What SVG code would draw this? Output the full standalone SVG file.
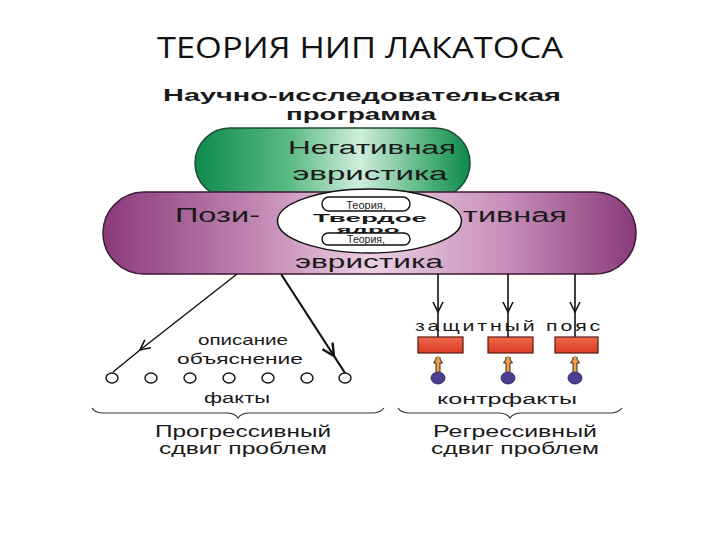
<svg xmlns="http://www.w3.org/2000/svg" width="720" height="540" viewBox="0 0 720 540">
<defs>
<linearGradient id="gGreen" x1="0" y1="0" x2="1" y2="0">
<stop offset="0" stop-color="#0e8a4c"/>
<stop offset="0.35" stop-color="#5dbb86"/>
<stop offset="0.6" stop-color="#cfeedd"/>
<stop offset="0.85" stop-color="#4fb07a"/>
<stop offset="1" stop-color="#0e8a4c"/>
</linearGradient>
<linearGradient id="gPurple" x1="0" y1="0" x2="1" y2="0">
<stop offset="0" stop-color="#8a3a7a"/>
<stop offset="0.3" stop-color="#c48ab4"/>
<stop offset="0.5" stop-color="#ecd0e4"/>
<stop offset="0.75" stop-color="#c890ba"/>
<stop offset="1" stop-color="#8a3a7a"/>
</linearGradient>
<linearGradient id="gRed" x1="0" y1="0" x2="0" y2="1">
<stop offset="0" stop-color="#f06a4a"/>
<stop offset="1" stop-color="#d83a26"/>
</linearGradient>
<marker id="vOpen" viewBox="0 0 12 12" refX="11" refY="6" markerWidth="12" markerHeight="12" markerUnits="userSpaceOnUse" orient="auto">
<path d="M1,1 L11,6 L1,11" fill="none" stroke="#111" stroke-width="1.6"/>
</marker>
<marker id="vBold" viewBox="0 0 14 14" refX="13" refY="7" markerWidth="14" markerHeight="14" markerUnits="userSpaceOnUse" orient="auto">
<path d="M1,1 L13,7 L1,13" fill="none" stroke="#111" stroke-width="2.4"/>
</marker>
<marker id="oArr" viewBox="0 0 10 10" refX="5" refY="1" markerWidth="10" markerHeight="10" markerUnits="userSpaceOnUse" orient="0">
<path d="M0.5,7 L5,0.5 L9.5,7 Z" fill="#f0a050" stroke="#3a2a10" stroke-width="1"/>
</marker>
</defs>
<style>
.t{font-family:"Liberation Sans",Arial,sans-serif;fill:#1a1a1a;}
.b{font-weight:bold;}
.ln{stroke:#111;fill:none;}
.dot{fill:#fff;stroke:#111;stroke-width:1.4;}
.rb{fill:url(#gRed);stroke:#5a1a10;stroke-width:1.2;}
.blob{fill:#4b3d8f;stroke:#251a50;stroke-width:0.8;}
.brace{fill:none;stroke:#333;stroke-width:1.2;}
</style>
<rect width="720" height="540" fill="#fff"/>
<text x="360" y="58" text-anchor="middle" font-family="'Open Sans','Liberation Sans',sans-serif" font-size="30" fill="#111" textLength="406" lengthAdjust="spacingAndGlyphs">ТЕОРИЯ НИП ЛАКАТОСА</text>
<g id="program-title">
<text class="t b" x="362" y="101" text-anchor="middle" font-size="16.5" textLength="398" lengthAdjust="spacingAndGlyphs">Научно-исследовательская</text>
<text class="t b" x="361" y="120" text-anchor="middle" font-size="16.5" textLength="150" lengthAdjust="spacingAndGlyphs">программа</text>
</g>
<g id="negative-heuristic">
<rect x="195" y="128" width="275" height="70" rx="35" fill="url(#gGreen)" stroke="#1d4a32" stroke-width="1.5"/>
<text class="t" x="372" y="154" text-anchor="middle" font-size="19" textLength="168" lengthAdjust="spacingAndGlyphs">Негативная</text>
<text class="t" x="370" y="180" text-anchor="middle" font-size="19" textLength="155" lengthAdjust="spacingAndGlyphs">эвристика</text>
</g>
<g id="positive-heuristic">
<rect x="103" y="192" width="533" height="82" rx="41" fill="url(#gPurple)" stroke="#3a1a34" stroke-width="1.5"/>
<text class="t" x="175" y="222" font-size="20" textLength="85" lengthAdjust="spacingAndGlyphs">Пози-</text>
<text class="t" x="463" y="222" font-size="20" textLength="104" lengthAdjust="spacingAndGlyphs">тивная</text>
<text class="t" x="369" y="268" text-anchor="middle" font-size="19" textLength="148" lengthAdjust="spacingAndGlyphs">эвристика</text>
</g>
<g id="hard-core">
<ellipse cx="369.5" cy="221" rx="92" ry="32" fill="#fff" stroke="#111" stroke-width="1.5"/>
<rect x="322" y="197" width="88" height="14" rx="7" fill="#fff" stroke="#111" stroke-width="1.4"/>
<text class="t" x="366" y="208.5" text-anchor="middle" font-size="11">Теория,</text>
<text class="t b" x="370" y="221.5" text-anchor="middle" font-size="11.5" textLength="114" lengthAdjust="spacingAndGlyphs">Твердое</text>
<text class="t b" x="368" y="232.5" text-anchor="middle" font-size="9" textLength="63" lengthAdjust="spacingAndGlyphs">ядро</text>
<rect x="322" y="233" width="88" height="12" rx="6" fill="#fff" stroke="#111" stroke-width="1.4"/>
<text class="t" x="366" y="243" text-anchor="middle" font-size="10.5">Теория,</text>
</g>
<g id="connectors">
<line class="ln" x1="237" y1="274" x2="140" y2="350" stroke-width="1.4" marker-end="url(#vOpen)"/>
<line class="ln" x1="140" y1="350" x2="113" y2="372" stroke-width="1.4"/>
<line class="ln" x1="281" y1="274" x2="334" y2="356" stroke-width="2.2" marker-end="url(#vBold)"/>
<line class="ln" x1="334" y1="356" x2="345" y2="373" stroke-width="2.2"/>
<line class="ln" x1="438" y1="274" x2="438" y2="312" stroke-width="1.6" marker-end="url(#vOpen)"/>
<line class="ln" x1="438" y1="312" x2="438" y2="338" stroke-width="1.6"/>
<line class="ln" x1="508" y1="274" x2="508" y2="312" stroke-width="1.6" marker-end="url(#vOpen)"/>
<line class="ln" x1="508" y1="312" x2="508" y2="338" stroke-width="1.6"/>
<line class="ln" x1="575" y1="274" x2="575" y2="312" stroke-width="1.6" marker-end="url(#vOpen)"/>
<line class="ln" x1="575" y1="312" x2="575" y2="338" stroke-width="1.6"/>
<g stroke-linecap="butt">
<line x1="438" y1="372" x2="438" y2="357" stroke="#3a2a10" stroke-width="5" marker-end="url(#oArr)"/>
<line x1="438" y1="372" x2="438" y2="357" stroke="#f0a050" stroke-width="3"/>
<line x1="508" y1="372" x2="508" y2="357" stroke="#3a2a10" stroke-width="5" marker-end="url(#oArr)"/>
<line x1="508" y1="372" x2="508" y2="357" stroke="#f0a050" stroke-width="3"/>
<line x1="575" y1="372" x2="575" y2="357" stroke="#3a2a10" stroke-width="5" marker-end="url(#oArr)"/>
<line x1="575" y1="372" x2="575" y2="357" stroke="#f0a050" stroke-width="3"/>
</g>
</g>
<g id="facts">
<ellipse class="dot" cx="112" cy="378" rx="6" ry="5"/>
<ellipse class="dot" cx="151" cy="378" rx="6" ry="5"/>
<ellipse class="dot" cx="190" cy="378" rx="6" ry="5"/>
<ellipse class="dot" cx="229" cy="378" rx="6" ry="5"/>
<ellipse class="dot" cx="268" cy="378" rx="6" ry="5"/>
<ellipse class="dot" cx="307" cy="378" rx="6" ry="5"/>
<ellipse class="dot" cx="345" cy="378" rx="6" ry="5"/>
<text class="t" x="243" y="345" text-anchor="middle" font-size="15" textLength="90" lengthAdjust="spacingAndGlyphs">описание</text>
<text class="t" x="240" y="364" text-anchor="middle" font-size="15" textLength="126" lengthAdjust="spacingAndGlyphs">объяснение</text>
<text class="t" x="237" y="403" text-anchor="middle" font-size="14" textLength="66" lengthAdjust="spacingAndGlyphs">факты</text>
<path class="brace" d="M92,408 Q95,413 104,413 L226,413 Q235,413 238,418 Q241,413 250,413 L372,413 Q380,413 384,408"/>
<text class="t" x="243" y="437" text-anchor="middle" font-size="16" textLength="176" lengthAdjust="spacingAndGlyphs">Прогрессивный</text>
<text class="t" x="243" y="454" text-anchor="middle" font-size="16" textLength="168" lengthAdjust="spacingAndGlyphs">сдвиг проблем</text>
</g>
<g id="protective-belt">
<text class="t" x="509" y="331" text-anchor="middle" font-size="15" textLength="188" lengthAdjust="spacingAndGlyphs" letter-spacing="2">защитный пояс</text>
<rect class="rb" x="418" y="337" width="45" height="16"/>
<rect class="rb" x="488" y="337" width="45" height="16"/>
<rect class="rb" x="555" y="337" width="43" height="16"/>
<ellipse class="blob" cx="438" cy="378" rx="7" ry="6"/>
<ellipse class="blob" cx="508" cy="378" rx="7" ry="6"/>
<ellipse class="blob" cx="575" cy="378" rx="7" ry="6"/>
<text class="t" x="507" y="404" text-anchor="middle" font-size="14" textLength="140" lengthAdjust="spacingAndGlyphs">контрфакты</text>
<path class="brace" d="M398,408 Q401,413 410,413 L498,413 Q507,413 510,418 Q513,413 522,413 L610,413 Q618,413 622,408"/>
<text class="t" x="515" y="437" text-anchor="middle" font-size="16" textLength="164" lengthAdjust="spacingAndGlyphs">Регрессивный</text>
<text class="t" x="515" y="454" text-anchor="middle" font-size="16" textLength="168" lengthAdjust="spacingAndGlyphs">сдвиг проблем</text>
</g>
</svg>
